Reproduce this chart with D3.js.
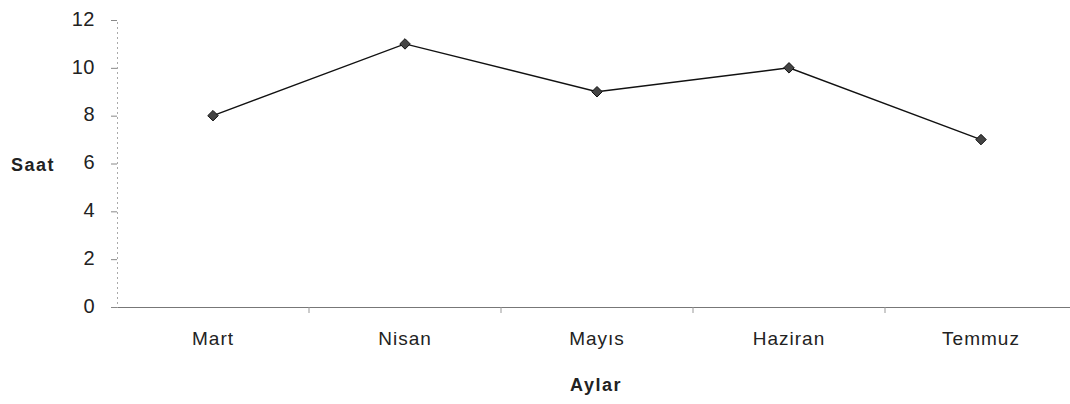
<!DOCTYPE html>
<html>
<head>
<meta charset="utf-8">
<script src="https://cdn.jsdelivr.net/npm/d3@7"></script>
<style>
body { margin: 0; background: #fff; }
svg { font-family: "Liberation Sans", Arial, sans-serif; }
.tick text { fill: #222; }
</style>
</head>
<body>
<svg id="chart" width="1070" height="404"></svg>
<script>
const months = ['Mart', 'Nisan', 'Mayıs', 'Haziran', 'Temmuz'];
const hours = [8, 11, 9, 10, 7];
const yTicks = [0, 2, 4, 6, 8, 10, 12];

const margin = {top: 20, right: -7, bottom: 97, left: 117};
const width = 1070, height = 404;

const svg = d3.select('#chart');

const x = d3.scaleBand()
.domain(months)
.range([margin.left, width - margin.right])

const y = d3.scaleLinear()
.domain([0, 12])
.range([height - margin.bottom, margin.top])

// y axis
const yAxis = svg.append('g')
.attr('transform', `translate(${margin.left},0)`)
.call(d3.axisLeft(y).tickValues(yTicks).tickSize(6).tickPadding(16))

yAxis.select('.domain')
.attr('stroke', '#aaa')
.attr('stroke-dasharray', '2,3')
yAxis.selectAll('.tick line').attr('stroke', '#888')
yAxis.selectAll('.tick text')
.style('font-size', '20px')
.style('letter-spacing', '0.5px')
.attr('dy', '0.26em')

// x axis
const xAxis = svg.append('g')
.attr('transform', `translate(0,${y(0)})`)
.call(d3.axisBottom(x).tickSize(0).tickPadding(25))

xAxis.select('.domain')
.attr('stroke', '#777')
.attr('stroke-width', 1.2)
xAxis.selectAll('.tick text')
.style('font-size', '19px')
.style('letter-spacing', '1px')

// small ticks between categories
svg.append('g')
.selectAll('line')
.data(months.slice(1))
.enter()
.append('line')
.attr('x1', d => x(d))
.attr('x2', d => x(d))
.attr('y1', y(0))
.attr('y2', y(0) + 6)
.attr('stroke', '#999')

// line
const line = d3.line()
.x((d, i) => x(months[i]) + x.bandwidth() / 2)
.y(d => y(d))

svg.append('path')
.datum(hours)
.attr('d', line)
.attr('fill', 'none')
.attr('stroke', '#111')
.attr('stroke-width', 1.4)

svg.append('g')
.selectAll('path')
.data(hours)
.enter()
.append('path')
.attr('d', d3.symbol().type(d3.symbolDiamond2).size(70))
.attr('transform', (d, i) => `translate(${x(months[i]) + x.bandwidth() / 2},${y(d)})`)
.attr('fill', '#444')
.attr('stroke', '#111')
.attr('stroke-width', 1)

// axis titles
svg.append('text')
.attr('x', 11)
.attr('y', 171)
.style('font-size', '18px')
.style('font-weight', 'bold')
.style('letter-spacing', '1.5px')
.attr('fill', '#222')
.text('Saat')

svg.append('text')
.attr('x', 596)
.attr('y', 391)
.attr('text-anchor', 'middle')
.style('font-size', '18px')
.style('font-weight', 'bold')
.style('letter-spacing', '1.5px')
.attr('fill', '#222')
.text('Aylar')
</script>
</body>
</html>
